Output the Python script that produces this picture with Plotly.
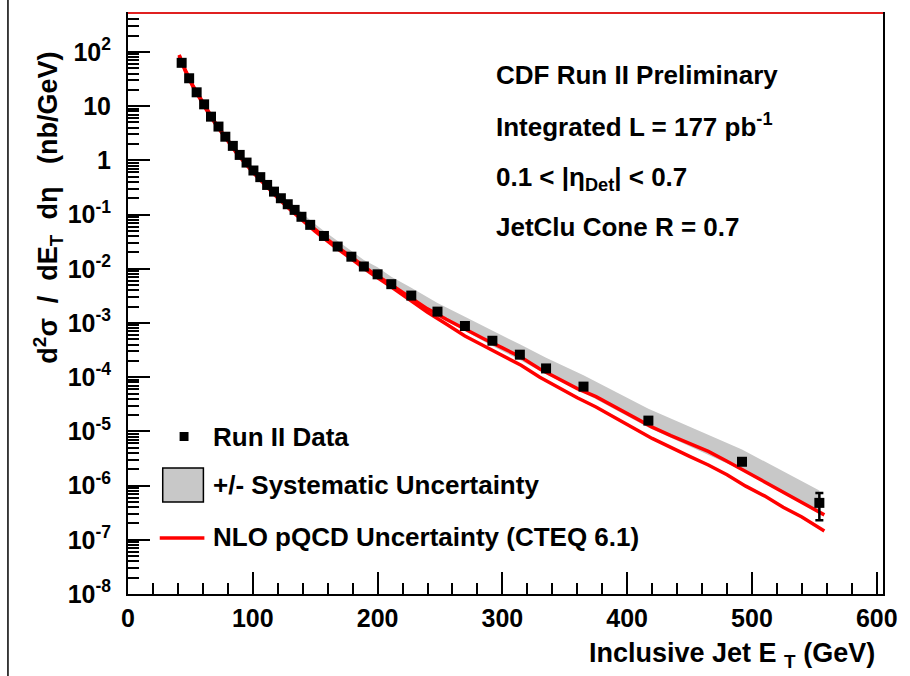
import plotly.graph_objects as go

# ---------------- data ----------------
et = [43, 49, 55, 61, 66.5, 72.5, 78, 84, 89.5, 95, 100.5, 106, 111.5, 117, 122.5,
      128, 133.5, 139, 146, 157, 168, 179, 189, 200, 211, 227, 248, 270, 292, 314,
      335, 365, 417, 492, 554]
sigma = [63, 32.7, 18.0, 10.8, 6.4, 4.2, 2.73, 1.85, 1.26, 0.91, 0.65, 0.49, 0.352,
         0.265, 0.20, 0.155, 0.122, 0.091, 0.0646, 0.0403, 0.0257, 0.0167, 0.011,
         0.0079, 0.0052, 0.0032, 0.00162, 8.8e-4, 4.7e-4, 2.6e-4, 1.45e-4, 6.7e-5,
         1.58e-5, 2.75e-6, 4.8e-7]
stat_err = [0.3, 0.15, 0.08, 0.05, 0.03, 0.02, 0.013, 0.009, 0.006, 0.0045, 0.0033,
            0.0025, 0.0018, 0.0014, 0.0011, 8.5e-4, 7e-4, 5.5e-4, 4e-4, 2.6e-4,
            1.8e-4, 1.2e-4, 8.5e-5, 6.5e-5, 4.5e-5, 3e-5, 1.7e-5, 1.0e-5, 6e-6,
            4e-6, 2.6e-6, 1.5e-6, 6e-7, 2.5e-7, 2.5e-7]
sys_up = [0.10, 0.10, 0.10, 0.10, 0.10, 0.10, 0.11, 0.11, 0.12, 0.12, 0.13, 0.14,
          0.15, 0.16, 0.17, 0.18, 0.19, 0.20, 0.22, 0.24, 0.27, 0.30, 0.32, 0.35,
          0.37, 0.40, 0.44, 0.48, 0.52, 0.55, 0.58, 0.62, 0.66, 0.68, 0.70]
sys_dn = [0.09, 0.09, 0.09, 0.09, 0.09, 0.09, 0.10, 0.10, 0.10, 0.10, 0.11, 0.11,
          0.12, 0.12, 0.13, 0.13, 0.14, 0.14, 0.15, 0.15, 0.16, 0.16, 0.17, 0.17,
          0.18, 0.18, 0.19, 0.19, 0.20, 0.20, 0.21, 0.22, 0.25, 0.30, 0.31]

nlo_et = [41, 46, 52, 58, 64, 70, 76, 82, 88, 94, 100, 110, 120, 130, 140, 150, 165,
          180, 195, 210, 225, 240, 255, 270, 285, 300, 315, 330, 345, 360, 375, 390,
          405, 420, 435, 450, 465, 480, 495, 510, 525, 540, 558]
nlo_upper = [88.1, 45.7, 24.0, 13.8, 7.94, 4.90, 3.09, 2.04, 1.32, 0.923, 0.631,
             0.372, 0.214, 0.132, 0.0813, 0.0525, 0.0280, 0.0158, 0.00871, 0.00525,
             0.00309, 0.00182, 0.00117, 7.59e-4, 5.13e-4, 3.47e-4, 2.34e-4, 1.41e-4,
             9.33e-5, 6.17e-5, 4.37e-5, 2.82e-5, 1.86e-5, 1.20e-5, 8.32e-6, 6.03e-6,
             4.27e-6, 2.82e-6, 1.82e-6, 1.20e-6, 7.59e-7, 5.01e-7, 2.88e-7]
nlo_lower = [85.1, 44.2, 23.2, 13.3, 7.67, 4.73, 2.99, 1.95, 1.26, 0.881, 0.603,
             0.351, 0.202, 0.123, 0.0759, 0.0490, 0.0263, 0.0148, 0.00813, 0.00479,
             0.00275, 0.00158, 9.55e-4, 5.75e-4, 3.80e-4, 2.51e-4, 1.66e-4, 1.00e-4,
             6.46e-5, 4.17e-5, 2.82e-5, 1.78e-5, 1.15e-5, 7.41e-6, 5.01e-6, 3.47e-6,
             2.40e-6, 1.58e-6, 9.77e-7, 6.46e-7, 3.98e-7, 2.63e-7, 1.45e-7]

x_ticks = [0, 100, 200, 300, 400, 500, 600]
y_ticks = [1e-8, 1e-7, 1e-6, 1e-5, 1e-4, 1e-3, 1e-2, 1e-1, 1, 10, 100]
y_ticktext = ["10<sup>-8</sup>", "10<sup>-7</sup>", "10<sup>-6</sup>", "10<sup>-5</sup>",
              "10<sup>-4</sup>", "10<sup>-3</sup>", "10<sup>-2</sup>", "10<sup>-1</sup>",
              "1", "10", "10<sup>2</sup>"]

info_lines = ["CDF Run II Preliminary",
              "Integrated L = 177 pb<sup>-1</sup>",
              "0.1 < |η<sub>Det</sub>| < 0.7",
              "JetClu Cone R = 0.7"]
legend_labels = ["Run II Data", "+/- Systematic Uncertainty",
                 "NLO pQCD Uncertainty (CTEQ 6.1)"]

# ---------------- geometry ----------------
W, H = 910, 676
L, R, T, B = 128, 889, 14, 594


def px(x):
    return (x - L) / (R - L)


def py(y):
    return (B - y) / (B - T)


FONT = "Liberation Sans, Arial, sans-serif"
RED = "#ff0000"

band_hi = [s * (1 + u) for s, u in zip(sigma, sys_up)]
band_lo = [s * (1 - d) for s, d in zip(sigma, sys_dn)]

fig = go.Figure()
fig.add_trace(go.Scatter(x=et + et[::-1], y=band_hi + band_lo[::-1], fill="toself",
                         fillcolor="#c8c8c8", line=dict(width=0), mode="lines",
                         hoverinfo="skip", showlegend=False))
fig.add_trace(go.Scatter(x=nlo_et, y=nlo_upper, mode="lines",
                         line=dict(color=RED, width=3.5), showlegend=False))
fig.add_trace(go.Scatter(x=nlo_et, y=nlo_lower, mode="lines",
                         line=dict(color=RED, width=3.5), showlegend=False))
fig.add_trace(go.Scatter(x=et, y=sigma, mode="markers",
                         marker=dict(symbol="square", size=10, color="black"),
                         error_y=dict(type="data", array=stat_err, color="black",
                                      thickness=2.5, width=4),
                         showlegend=False))

tickfont = dict(family=FONT, size=25, color="black", weight="bold")

fig.update_xaxes(range=[0, 605], tickmode="array", tickvals=x_ticks,
                 ticks="inside", ticklen=22, tickwidth=2, tickcolor="black",
                 minor=dict(ticks="inside", ticklen=11, tickwidth=2, dtick=20,
                            tickcolor="black", showgrid=False),
                 showline=True, linecolor="black", linewidth=2, mirror=True,
                 showgrid=False, zeroline=False, tickfont=tickfont,
                 ticklabelstandoff=1)
fig.update_yaxes(type="log", range=[-8, 2.70], tickmode="array", tickvals=y_ticks,
                 ticktext=y_ticktext, ticks="inside", ticklen=22, tickwidth=2,
                 tickcolor="black",
                 minor=dict(ticks="inside", ticklen=11, tickwidth=1.5, dtick="D1",
                            tickcolor="black", showgrid=False),
                 showline=True, linecolor="black", linewidth=2, mirror=True,
                 showgrid=False, zeroline=False, tickfont=tickfont,
                 ticklabelstandoff=10)

ann = []
afont = dict(family=FONT, size=26, color="black", weight="bold")
tfont = dict(family=FONT, size=27, color="black", weight="bold")
# info text (top right)
for txt, yc in zip(info_lines, [75, 125, 178, 227]):
    ann.append(dict(x=px(497), y=py(yc), xref="paper", yref="paper", text=txt,
                    showarrow=False, xanchor="left", yanchor="middle", font=afont))
# axis titles
nb = "\u00a0"
ann.append(dict(x=px(47), y=py(208), xref="paper", yref="paper",
                text=(f"d<sup>2</sup>σ{nb*2}/{nb*2}dE<sub>T</sub>{nb*2}dη"
                      f"{nb*3}(nb/GeV)"),
                textangle=-90, showarrow=False, xanchor="center", yanchor="middle",
                font=tfont))
ann.append(dict(x=px(883), y=py(655), xref="paper", yref="paper",
                text=f"Inclusive Jet E{nb}<sub>T</sub>{nb}(GeV)",
                showarrow=False, xanchor="right", yanchor="middle", font=tfont))
# legend texts
for txt, yc in zip(legend_labels, [437, 485, 537]):
    ann.append(dict(x=px(212), y=py(yc), xref="paper", yref="paper", text=txt,
                    showarrow=False, xanchor="left", yanchor="middle", font=afont))

shapes = [
    # legend swatches
    dict(type="rect", xref="paper", yref="paper", x0=px(180), x1=px(189),
         y0=py(441), y1=py(432), fillcolor="black", line=dict(width=0)),
    dict(type="rect", xref="paper", yref="paper", x0=px(163), x1=px(204),
         y0=py(502), y1=py(468), fillcolor="#c8c8c8",
         line=dict(color="black", width=1.5)),
    dict(type="line", xref="paper", yref="paper", x0=px(160), x1=px(205),
         y0=py(538), y1=py(538), line=dict(color=RED, width=3.5)),
    # red top border
    dict(type="line", xref="paper", yref="paper", x0=px(L), x1=px(R),
         y0=py(T - 1), y1=py(T - 1), line=dict(color="#e02020", width=2)),
    # left page edge line
    dict(type="line", xref="paper", yref="paper", x0=px(7), x1=px(7),
         y0=py(0), y1=py(H), line=dict(color="black", width=1.5)),
]

fig.update_layout(width=W, height=H, margin=dict(l=L, r=W - R, t=T, b=H - B),
                  paper_bgcolor="white", plot_bgcolor="white", showlegend=False,
                  annotations=ann, shapes=shapes)

fig.write_html("out.html")
